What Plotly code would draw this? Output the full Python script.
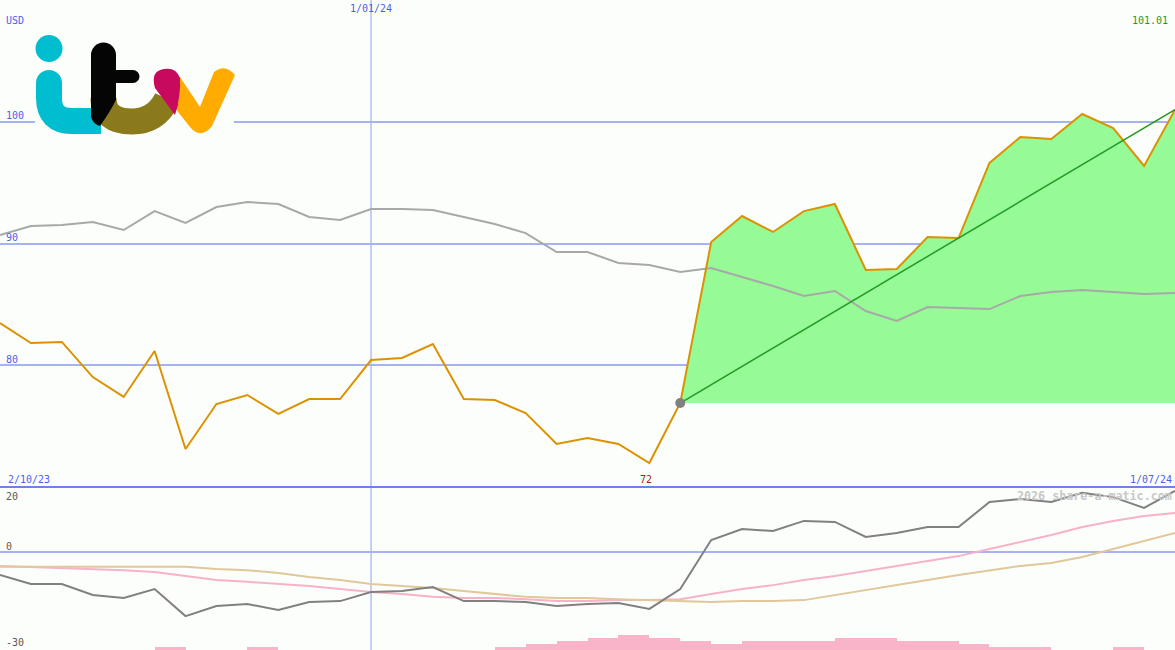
import plotly.graph_objects as go

W, H = 1175, 650

# ---------------- data ----------------
week_dates = ["2/10/23", "9/10/23", "16/10/23", "23/10/23", "30/10/23",
              "6/11/23", "13/11/23", "20/11/23", "27/11/23",
              "4/12/23", "11/12/23", "18/12/23",
              "1/01/24", "8/01/24", "15/01/24", "22/01/24", "29/01/24",
              "5/02/24", "12/02/24", "19/02/24", "26/02/24",
              "4/03/24", "11/03/24", "18/03/24", "25/03/24",
              "1/04/24", "8/04/24", "15/04/24", "22/04/24", "29/04/24",
              "6/05/24", "13/05/24", "20/05/24", "27/05/24",
              "3/06/24", "10/06/24", "17/06/24", "24/06/24", "1/07/24"]

price = [83.46, 81.81, 81.9, 79.01, 77.37, 81.15, 73.09, 76.79, 77.53, 75.97,
         77.2, 77.2, 80.41, 80.58, 81.73, 77.2, 77.12, 76.05, 73.5, 74.0,
         73.5, 71.93, 76.87, 90.12, 92.26, 90.95, 92.67, 93.25, 87.82, 87.9,
         90.53, 90.45, 96.63, 98.77, 98.6, 100.66, 99.5, 96.38, 101.01]

moving_avg = [90.7, 91.44, 91.52, 91.77, 91.11, 92.67, 91.69, 93.0, 93.42, 93.25,
              92.18, 91.93, 92.84, 92.84, 92.76, 92.18, 91.6, 90.86, 89.3, 89.3,
              88.4, 88.23, 87.65, 87.98, 87.24, 86.5, 85.68, 86.09, 84.44, 83.62,
              84.77, 84.69, 84.6, 85.68, 86.0, 86.17, 86.0, 85.84, 85.93]

momentum = [-7.0, -9.75, -9.75, -13.1, -14.05, -11.3, -19.6, -16.5, -15.9, -17.7,
            -15.3, -15.0, -12.2, -11.9, -10.7, -15.0, -15.0, -15.3, -16.5, -15.9,
            -15.6, -17.4, -11.3, 3.74, 7.1, 6.5, 9.6, 9.3, 4.66, 5.9,
            7.7, 7.7, 15.4, 16.3, 15.4, 18.2, 16.9, 13.6, 18.8]

signal_fast = [-4.2, -4.5, -4.7, -5.0, -5.5, -6.1, -7.3, -8.5, -9.1, -9.75,
               -10.4, -11.3, -12.2, -12.8, -13.7, -14.05, -14.05, -14.4, -15.0, -15.0,
               -14.7, -14.7, -14.4, -12.8, -11.3, -10.1, -8.5, -7.3, -5.8, -4.2,
               -2.7, -1.2, 1.0, 3.1, 5.3, 7.7, 9.6, 11.1, 12.0]

signal_slow = [-4.5, -4.5, -4.5, -4.5, -4.5, -4.5, -4.5, -5.15, -5.5, -6.4,
               -7.6, -8.5, -9.75, -10.4, -11.0, -11.9, -12.8, -13.7, -14.05, -14.05,
               -14.4, -14.7, -15.0, -15.3, -15.0, -15.0, -14.7, -13.1, -11.6, -10.1,
               -8.5, -7.0, -5.5, -4.2, -3.3, -1.5, 1.0, 3.4, 5.9]

# histogram (one bar per weekly interval)
histogram = [0, 0, 0, 0, 0, 0.9, 0, 0, 0.9, 0,
             0, 0, 0, 0, 0, 0, 0.9, 1.8, 2.8, 3.7,
             4.6, 3.7, 2.8, 1.8, 2.8, 2.8, 2.8, 3.7, 3.7, 2.8,
             2.8, 1.8, 0.9, 0.9, 0, 0, 0.9, 0]

trend_start = 22          # index where the highlighted rally starts
currency = "USD"
main_ticks = [80, 90, 100]
lower_ticks = [20, 0, -30]

x = list(range(len(price)))
xi_hist = [i + 0.5 for i in range(len(histogram))]

# ---------------- styling ----------------
BG = "#fcfefc"
GRID = "#a6b2f2"
VGRID = "#a0b0f2"
SEP = "#7080e8"
LBL = "#4b5ef0"
FONT = "DejaVu Sans Mono"

fig = go.Figure()

# lower panel
fig.add_trace(go.Bar(x=xi_hist, y=histogram, base=-30, width=1.0,
                     marker=dict(color="#f9b4c9", line=dict(width=0)),
                     xaxis="x2", yaxis="y2", hoverinfo="skip"))
fig.add_trace(go.Scatter(x=x, y=signal_fast, mode="lines",
                         line=dict(color="#f8b2c8", width=2),
                         xaxis="x2", yaxis="y2"))
fig.add_trace(go.Scatter(x=x, y=signal_slow, mode="lines",
                         line=dict(color="#e0c89a", width=2),
                         xaxis="x2", yaxis="y2"))
fig.add_trace(go.Scatter(x=x, y=momentum, mode="lines",
                         line=dict(color="#808080", width=2),
                         xaxis="x2", yaxis="y2"))

# main panel: green area between price and rally start level
xs = x[trend_start:]
base_level = price[trend_start]
fig.add_trace(go.Scatter(x=xs, y=[base_level] * len(xs), mode="lines",
                         line=dict(width=0, color="rgba(0,0,0,0)"),
                         xaxis="x", yaxis="y", hoverinfo="skip"))
fig.add_trace(go.Scatter(x=xs, y=price[trend_start:], mode="lines",
                         line=dict(width=0, color="rgba(0,0,0,0)"),
                         fill="tonexty", fillcolor="#96fa96",
                         xaxis="x", yaxis="y", hoverinfo="skip"))
fig.add_trace(go.Scatter(x=x, y=moving_avg, mode="lines",
                         line=dict(color="#a8a8a8", width=2),
                         xaxis="x", yaxis="y"))
fig.add_trace(go.Scatter(x=x, y=price, mode="lines",
                         line=dict(color="#dc9200", width=2),
                         xaxis="x", yaxis="y"))
fig.add_trace(go.Scatter(x=[trend_start, x[-1]], y=[price[trend_start], price[-1]],
                         mode="lines", line=dict(color="#229a22", width=1.5),
                         xaxis="x", yaxis="y"))
fig.add_trace(go.Scatter(x=[trend_start], y=[price[trend_start]], mode="markers",
                         marker=dict(color="#808080", size=10),
                         xaxis="x", yaxis="y"))

split = 163 / H
jan_idx = week_dates.index("1/01/24")
fig.update_layout(
    width=W, height=H, margin=dict(l=0, r=0, t=0, b=0),
    paper_bgcolor=BG, plot_bgcolor=BG, showlegend=False,
    xaxis=dict(domain=[0, 1], range=[0, len(price) - 1], anchor="y",
               showticklabels=False, showgrid=False, zeroline=False, ticks=""),
    xaxis2=dict(domain=[0, 1], range=[0, len(price) - 1], anchor="y2",
                showticklabels=False, showgrid=False, zeroline=False, ticks=""),
    yaxis=dict(domain=[split, 1], range=[69.96, 110.04], anchor="x",
               tickvals=main_ticks, showticklabels=False, showgrid=True,
               gridcolor=GRID, gridwidth=2, zeroline=False, ticks=""),
    yaxis2=dict(domain=[0, split], range=[-30, 20], anchor="x2",
                tickvals=[0], showticklabels=False, showgrid=True,
                gridcolor=GRID, gridwidth=2, zeroline=False, ticks=""),
    bargap=0,
)

# vertical marker at the start of the year and separator between panels
shapes = [
    dict(type="line", xref="x", yref="paper", x0=jan_idx, x1=jan_idx, y0=0, y1=1,
         line=dict(color=VGRID, width=1.2), layer="below"),
    dict(type="line", xref="paper", yref="paper", x0=0, x1=1, y0=split, y1=split,
         line=dict(color=SEP, width=2), layer="above"),
]


# ---------------- logo (decoration, pixel-space helpers) ----------------
def P(px, py):
    return px / W, 1 - py / H


def path(cmds):
    out = []
    for c in cmds:
        op = c[0]
        pts = c[1:]
        coords = " ".join("%.5f,%.5f" % P(*p) for p in pts)
        out.append(op + " " + coords)
    return " ".join(out)


def circle(cx, cy, r, color):
    x0, y0 = P(cx - r, cy + r)
    x1, y1 = P(cx + r, cy - r)
    return dict(type="circle", xref="paper", yref="paper", x0=x0, x1=x1, y0=y0, y1=y1,
                fillcolor=color, line=dict(width=0), layer="above")


def stroke(cmds, color, w):
    return dict(type="path", xref="paper", yref="paper", path=path(cmds),
                line=dict(color=color, width=w), layer="above")


def fillp(cmds, color):
    return dict(type="path", xref="paper", yref="paper", path=path(cmds) + " Z",
                fillcolor=color, line=dict(width=0), layer="above")


bx0, by0 = P(35, 138)
bx1, by1 = P(234, 28)
shapes.append(dict(type="rect", xref="paper", yref="paper", x0=bx0, x1=bx1, y0=by0, y1=by1,
                   fillcolor=BG, line=dict(width=0), layer="above"))

CYAN, BLACK, OLIVE, MAG, ORANGE = "#00bdd0", "#050505", "#8a7a1c", "#c80a5e", "#ffab00"

# orange v
shapes.append(fillp([("M", (214, 72)), ("Q", (225, 63), (235, 75)),
                     ("L", (212, 126)), ("Q", (201, 140), (190, 127)),
                     ("L", (163, 93)), ("L", (180, 77)), ("L", (200, 107)),
                     ("L", (214, 72))], ORANGE))
# olive bowl of t
shapes.append(stroke([("M", (103.5, 98)), ("Q", (103.5, 121.5), (132, 121.5)),
                      ("Q", (156, 121.5), (167, 99))], OLIVE, 26))
# magenta top of v
shapes.append(fillp([("M", (155, 88)), ("Q", (150, 71), (164, 69)),
                     ("Q", (176, 67), (180, 78)), ("Q", (181, 96), (175, 115)),
                     ("L", (155, 88))], MAG))
# cyan i
shapes.append(circle(49, 48.5, 13.5, CYAN))
shapes.append(circle(49, 83, 13, CYAN))
shapes.append(stroke([("M", (49, 82)), ("L", (49, 98)), ("Q", (49, 121), (72, 121)),
                      ("L", (101, 121))], CYAN, 26))
# black t
shapes.append(circle(103.5, 55, 12.5, BLACK))
shapes.append(fillp([("M", (91, 55)), ("L", (91, 117)), ("Q", (93, 124), (100, 126)),
                     ("Q", (110, 112), (116, 100)), ("L", (116, 55))], BLACK))
shapes.append(stroke([("M", (110, 76.5)), ("L", (133, 76.5))], BLACK, 13))
shapes.append(circle(133, 76.5, 6.5, BLACK))

fig.update_layout(shapes=shapes)

# ---------------- labels ----------------
ann = []


def label(text, px, py, anchor="left", color=LBL, size=10, bold=False):
    xp, yp = P(px, py)
    t = "<b>%s</b>" % text if bold else text
    ann.append(dict(text=t, x=xp, y=yp, xref="paper", yref="paper", xanchor=anchor,
                    yanchor="middle", showarrow=False,
                    font=dict(family=FONT, size=size, color=color)))


def axis_label(text, yval, yref, shift, color):
    ann.append(dict(text=text, x=4 / W, y=yval, xref="paper", yref=yref, xanchor="left",
                    yanchor="middle", yshift=shift, showarrow=False,
                    font=dict(family=FONT, size=10, color=color)))


label(currency, 4, 21)
for v in main_ticks:
    axis_label(str(v), v, "y", 6, LBL)
axis_label(str(lower_ticks[0]), lower_ticks[0], "y2", -9, "#5a5a5a")
axis_label(str(lower_ticks[1]), lower_ticks[1], "y2", 6, "#5a5a5a")
axis_label(str(lower_ticks[2]), lower_ticks[2], "y2", 8, "#5a5a5a")

ann.append(dict(text=week_dates[jan_idx], x=jan_idx, y=1 - 9 / H, xref="x", yref="paper",
                xanchor="center", yanchor="middle", showarrow=False,
                font=dict(family=FONT, size=10, color=LBL)))
label("%.2f" % price[-1], 1170, 21, anchor="right", color="#1f9a1f")
label(week_dates[0], 6, 479)
label(week_dates[-1], 1174, 479, anchor="right")
min_idx = price.index(min(price))
ann.append(dict(text="%d" % round(min(price)), x=min_idx, y=1 - 479 / H, xref="x", yref="paper",
                xanchor="center", yanchor="middle", xshift=-3, showarrow=False,
                font=dict(family=FONT, size=10, color="#a01c1c")))
label("2026 share-a-matic.com", 1174, 496, anchor="right", color="#c8c8c8", size=11.7, bold=True)

fig.update_layout(annotations=ann)

fig.write_html("out.html", config={"displayModeBar": False},
               post_script="document.body.style.margin='0';document.body.style.overflow='hidden';")
